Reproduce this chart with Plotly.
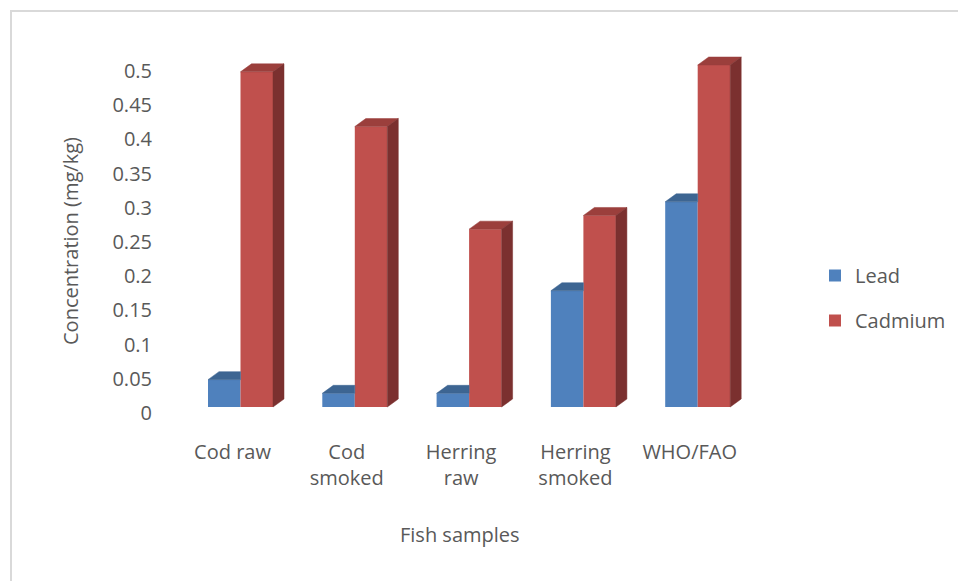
import plotly.graph_objects as go

# ---- data ----
categories = ["Cod raw", "Cod<br>smoked", "Herring<br>raw", "Herring<br>smoked", "WHO/FAO"]
lead = [0.04, 0.02, 0.02, 0.17, 0.30]
cadmium = [0.49, 0.41, 0.26, 0.28, 0.50]
ytick_vals = [0, 0.05, 0.1, 0.15, 0.2, 0.25, 0.3, 0.35, 0.4, 0.45, 0.5]
ytick_text = ["0", "0.05", "0.1", "0.15", "0.2", "0.25", "0.3", "0.35", "0.4", "0.45", "0.5"]
x_title = "Fish samples"
y_title = "Concentration (mg/kg)"

# ---- style / geometry ----
W, H = 958, 581
L, R, T, B = 183, 755, 40, 432          # plot area in px
CAT0_PX, CAT_STEP = 232.5, 114.3        # px of first category label centre, px per category
Y0_PX, Y_SCALE = 407, 684               # px of value 0, px per unit
BAR_W = 0.2843                          # bar width in category units
SHIFT = 8 / CAT_STEP                    # bar pair offset from label centre
DX = 11 / CAT_STEP                      # depth offset (x) in data units
DY = 8 / Y_SCALE                        # depth offset (y) in data units

xr = [(L - CAT0_PX) / CAT_STEP, (R - CAT0_PX) / CAT_STEP]
yr = [(Y0_PX - B) / Y_SCALE, (Y0_PX - T) / Y_SCALE]

LEAD_FRONT, LEAD_TOP = "#4F81BD", "#3D6592"
CAD_FRONT, CAD_TOP, CAD_SIDE = "#C0504D", "#9B3F3C", "#7B302F"
TXT = "#595959"
FONT = "Open Sans"

def px_to_paper_x(px):
    return (px - L) / (R - L)

def px_to_paper_y(py):
    return (B - py) / (B - T)

xs = list(range(len(categories)))

fig = go.Figure()
fig.add_trace(go.Bar(x=xs, y=lead, name="Lead", width=BAR_W, offset=-BAR_W + SHIFT,
                     marker=dict(color=LEAD_FRONT, line=dict(width=0)),
                     legendgroup="a", hoverinfo="skip"))
fig.add_trace(go.Bar(x=xs, y=cadmium, name="Cadmium", width=BAR_W, offset=SHIFT,
                     marker=dict(color=CAD_FRONT, line=dict(width=0)),
                     legendgroup="b", hoverinfo="skip"))

def poly_trace(px, py, color):
    return go.Scatter(x=px, y=py, mode="lines", fill="toself", fillcolor=color,
                      line=dict(color=color, width=0.5), showlegend=False,
                      hoverinfo="skip")

# lead top faces (right part hidden behind taller cadmium bar)
lx, ly = [], []
for i, (v, c) in enumerate(zip(lead, cadmium)):
    xl, xrr = i - BAR_W + SHIFT, i + SHIFT
    if c >= v:
        lx += [xl, xrr, xrr, xl + DX, xl, None]
    else:
        lx += [xl, xrr, xrr + DX, xl + DX, xl, None]
    ly += [v, v, v + DY, v + DY, v, None]
fig.add_trace(poly_trace(lx, ly, LEAD_TOP))

# cadmium top and side faces
tx, ty, sx, sy = [], [], [], []
for i, v in enumerate(cadmium):
    xl, xrr = i + SHIFT, i + BAR_W + SHIFT
    tx += [xl, xrr, xrr + DX, xl + DX, xl, None]
    ty += [v, v, v + DY, v + DY, v, None]
    sx += [xrr, xrr, xrr + DX, xrr + DX, xrr, None]
    sy += [0, v, v + DY, DY, 0, None]
fig.add_trace(poly_trace(tx, ty, CAD_TOP))
fig.add_trace(poly_trace(sx, sy, CAD_SIDE))

# light grey frame (only left and top edges are visible in the window)
fig.add_shape(type="rect", xref="paper", yref="paper",
              x0=px_to_paper_x(11), x1=px_to_paper_x(1100),
              y0=px_to_paper_y(700), y1=px_to_paper_y(11),
              line=dict(color="#D9D9D9", width=2), fillcolor="rgba(0,0,0,0)", layer="below")

# axis titles
fig.add_annotation(text=y_title, xref="paper", yref="paper",
                   x=px_to_paper_x(70), y=px_to_paper_y(241),
                   xanchor="center", yanchor="middle", textangle=-90, showarrow=False,
                   font=dict(family=FONT, size=20, color=TXT))
fig.add_annotation(text=x_title, xref="paper", yref="paper",
                   x=px_to_paper_x(460), y=px_to_paper_y(534),
                   xanchor="center", yanchor="middle", showarrow=False,
                   font=dict(family=FONT, size=20, color=TXT))

fig.update_layout(
    template="none",
    width=W, height=H, autosize=False,
    margin=dict(l=L, r=W - R, t=T, b=H - B, pad=0, autoexpand=False),
    paper_bgcolor="white", plot_bgcolor="white",
    font=dict(family=FONT, size=20, color=TXT),
    barmode="overlay",
    showlegend=True,
    legend=dict(x=px_to_paper_x(815), y=px_to_paper_y(256),
                xanchor="left", yanchor="top", tracegroupgap=16,
                font=dict(family=FONT, size=20, color=TXT),
                bgcolor="rgba(0,0,0,0)"),
    xaxis=dict(range=xr, tickmode="array", tickvals=xs, ticktext=categories,
               showgrid=False, zeroline=False, showline=False, ticks="",
               ticklabelstandoff=6,
               automargin=False, fixedrange=True,
               tickfont=dict(family=FONT, size=20, color=TXT)),
    yaxis=dict(range=yr, tickmode="array", tickvals=ytick_vals, ticktext=ytick_text,
               ticklabelshift=6, ticklabelstandoff=30,
               showgrid=False, zeroline=False, showline=False, ticks="",
               automargin=False, fixedrange=True,
               tickfont=dict(family=FONT, size=20, color=TXT)),
)

fig.write_html("out.html", config={"displayModeBar": False},
               post_script="document.body.style.margin='0';document.body.style.overflow='hidden';")
